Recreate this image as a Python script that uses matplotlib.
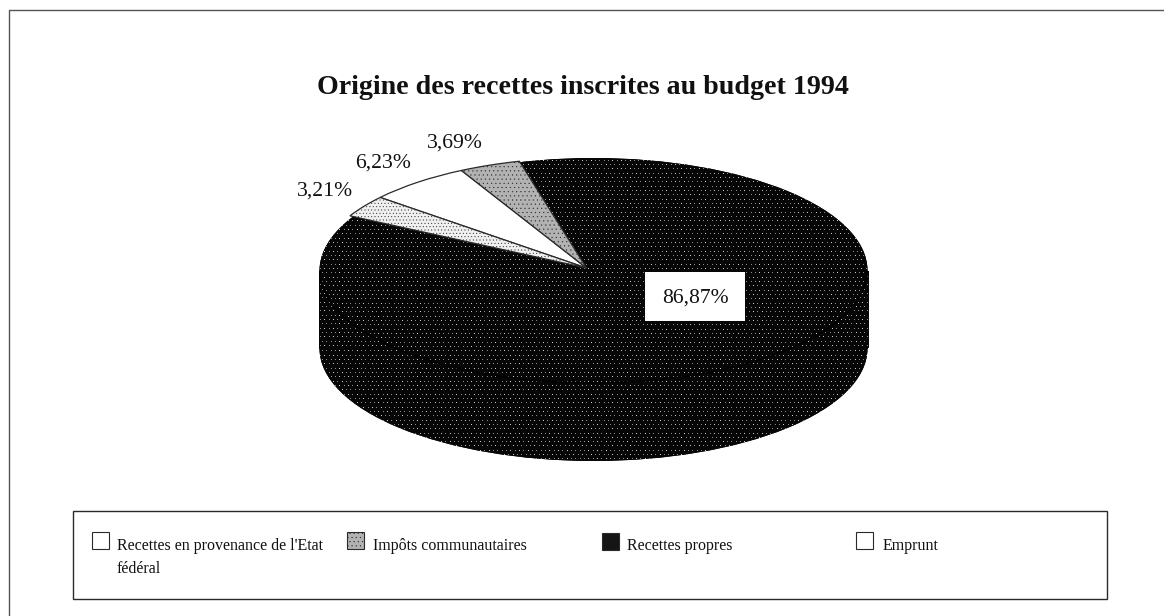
import matplotlib
matplotlib.use("Agg")
import matplotlib.pyplot as plt
import numpy as np
from matplotlib.patches import Ellipse, Rectangle, Arc

W, H = 1164, 616
plt.rcParams['font.family'] = ['Liberation Serif', 'DejaVu Sans']
plt.rcParams['hatch.linewidth'] = 0.3

title = "Origine des recettes inscrites au budget 1994"
categories = ["Recettes en provenance de l'Etat\nfédéral", "Impôts communautaires", "Recettes propres", "Emprunt"]
values = [6.23, 3.69, 86.87, 3.21]
value_labels = ["6,23%", "3,69%", "86,87%", "3,21%"]

fig = plt.figure(figsize=(W / 100, H / 100), dpi=100, facecolor='white')
ax = fig.add_axes([0, 0, 1, 1])
ax.set_xlim(0, W)
ax.set_ylim(H, 0)
ax.axis('off')

LINE = '#2a2a2a'
DARK = '#060606'
GREY = '#b2b2b2'

# dotted print screen used for the dark fill
tex = np.full((H, W), 6, dtype=float)
pitch = 4.33
for j, yy in enumerate(np.arange(0, H, pitch)):
    off = 0 if j % 2 == 0 else pitch / 2
    for xx in np.arange(off, W, pitch):
        tex[int(yy), int(xx)] = 205 if int(xx) % 3 == 0 else 140


def dark(patch):
    ax.add_patch(patch)
    im = ax.imshow(tex, cmap='gray', vmin=0, vmax=255, extent=(0, W, H, 0),
                   interpolation='nearest', aspect='auto', zorder=patch.get_zorder())
    im.set_clip_path(patch)


# frames
ax.plot([1164, 8.5, 8.5], [10, 10, 616], color='#555555', lw=1.0, clip_on=False)
ax.add_patch(Rectangle((73, 511), 1034, 88, fc='white', ec=LINE, lw=1.0))

ax.text(583, 88, title, ha='center', va='center', fontsize=20.2, fontweight='bold', color='#111111')

# 3D pie geometry
cx, cy, rx, ry, depth = 593.5, 270.5, 274, 112.5, 78
ax_x, ax_y = 586.5, 268

dark(Ellipse((cx, cy + depth), 2 * rx, 2 * ry, fc=DARK, ec='none'))
dark(Rectangle((cx - rx - 0.8, cy), 2 * rx + 1.2, depth, fc=DARK, ec='none'))
dark(Ellipse((cx, cy), 2 * rx, 2 * ry, fc=DARK, ec='none'))
ax.add_patch(Arc((cx, cy), 2 * rx - 1, 2 * ry, theta1=0, theta2=180, color='#000000', lw=1.2, zorder=3))
ax.set_xlim(0, W)
ax.set_ylim(H, 0)

# slices on a stretched unit circle around the apex
start = 140.2
pie_ax = fig.add_axes([0, 0, 1, 1], facecolor='none')
wedges, _ = pie_ax.pie(values, startangle=start, counterclock=False, radius=0.98,
                       colors=['white', GREY, 'none', '#f0f0f0'],
                       wedgeprops=dict(edgecolor=LINE, linewidth=0.9))
pie_ax.set_aspect('auto')
pie_ax.set_xlim((0 - ax_x) / rx, (W - ax_x) / rx)
pie_ax.set_ylim((ax_y - H) / ry, ax_y / ry)
pie_ax.axis('off')
wedges[2].set_linewidth(0)
wedges[2].set_edgecolor('none')
wedges[1].set_hatch('....')
wedges[3].set_hatch('.....')

# value labels and legend
ax2 = fig.add_axes([0, 0, 1, 1], facecolor='none')
ax2.set_xlim(0, W)
ax2.set_ylim(H, 0)
ax2.axis('off')
lab = dict(fontsize=15.6, ha='center', va='center', color='#111111')
ax2.text(383, 163, value_labels[0], **lab)
ax2.text(455, 143, value_labels[1], **lab)
ax2.text(325, 191, value_labels[3], **lab)
ax2.add_patch(Rectangle((645, 272), 100, 49, fc='white', ec='none'))
ax2.text(695, 298, value_labels[2], **lab)

leg = dict(fontsize=11.5, ha='left', va='center', color='#111111')
swatches = [(92, 532, 'white', None), (347, 532, GREY, '....'), (602, 533, '#151515', None), (856, 532, 'white', None)]
text_x = [117, 373, 627, 883]
for (x, y, c, h), tx, name in zip(swatches, text_x, categories):
    ax2.add_patch(Rectangle((x, y), 17, 17, fc=c, ec=LINE, lw=0.8, hatch=h))
    ax2.text(tx, 546, name.split('\n')[0], **leg)
ax2.text(117, 569, categories[0].split('\n')[1], **leg)

fig.savefig('out.png', dpi=100)
